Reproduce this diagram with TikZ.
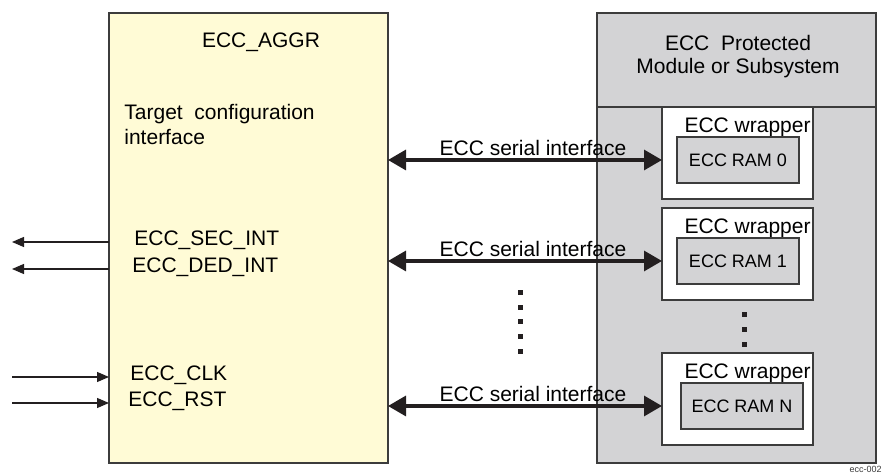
\documentclass[tikz,border=0pt]{standalone}
\usepackage{fontspec}
\setmainfont{Liberation Sans}
\setsansfont{Liberation Sans}
\usepackage{tikz}
\usetikzlibrary{arrows.meta,positioning}
\definecolor{eaYellow}{HTML}{FFFBD6}
\definecolor{eaGrey}{HTML}{D3D3D5}
\definecolor{eaLine}{HTML}{3C3C3C}
\definecolor{eaInk}{HTML}{231F20}

\begin{document}
\begin{tikzpicture}[x=0.5pt,y=-0.5pt,font=\sffamily\fontsize{10.5}{12.5}\selectfont,
    blockbox/.style={draw=eaLine, line width=0.6pt, inner sep=0pt, outer sep=0pt, anchor=north west},
    serial/.style={draw=eaInk, line width=1.6pt, {Triangle[length=9pt,width=10pt]}-{Triangle[length=9pt,width=10pt]}},
    sigline/.style={draw=eaInk, line width=0.6pt, -{Triangle[length=6pt,width=5pt]}},
    dotsq/.style={fill=eaInk}]
  \useasboundingbox (0,0) rectangle (884,474);

  % aggregator
  \node[blockbox, fill=eaYellow, minimum width=139.5pt, minimum height=225pt] (aggr) at (109,13) {};
  \node (aggrname) at (261,42) {ECC\_AGGR};
  \node[anchor=west, align=left, inner sep=0pt] (tgtif) at (124,125) {Target\ \ configuration\\interface};

  % protected module
  \node[blockbox, fill=eaGrey, minimum width=139.5pt, minimum height=225pt] (prot) at (597,13) {};
  \node[blockbox, fill=eaGrey, minimum width=139.5pt, minimum height=47pt] (prothdr) at (597,13) {};
  \node[align=center, font=\sffamily\fontsize{10.5}{11.5}\selectfont] (protname) at (738,57) {ECC\ \ Protected\\Module or Subsystem};

  % wrappers, rams and serial links
  \foreach \n/\y/\rx in {0/107/677, 1/208/677, N/353/681} {
    \node[blockbox, fill=white, minimum width=75.5pt, minimum height=46pt] (wrap\n) at (662,\y) {};
    \node[anchor=north east, inner xsep=1pt, inner ysep=5pt] (wraplbl\n) at (wrap\n.north east) {ECC wrapper};
    \node[blockbox, fill=eaGrey, minimum width=61pt, minimum height=23pt,
          font=\sffamily\fontsize{9}{10}\selectfont] (ram\n) at (\rx,\y+30) {ECC RAM \n};
    \draw[serial] (aggr.east |- ram\n) -- (wrap\n.west |- ram\n)
      node[midway, above, inner sep=1.5pt, xshift=4pt] {ECC serial interface};
  }

  % interrupts out, clock and reset in
  \foreach \y/\x/\t/\d in {240/134/ECC\_SEC\_INT/o, 267/132/ECC\_DED\_INT/o, 375/130/ECC\_CLK/i, 401/128/ECC\_RST/i} {
    \node[anchor=west, inner sep=0pt] (sig\y) at (\x,\y) {\t};
    \coordinate (ext\y) at (12,\y+2);
    \if o\d
      \draw[sigline] (aggr.west |- ext\y) -- (ext\y);
    \else
      \draw[sigline] (ext\y) -- (aggr.west |- ext\y);
    \fi
  }

  % continuation dots
  \foreach \y in {293,307.5,322,337,352}
    \fill[dotsq] (520,\y) +(-2.5,-2.5) rectangle +(2.5,2.5);
  \foreach \y in {315,330,345}
    \fill[dotsq] (744,\y) +(-2.5,-2.5) rectangle +(2.5,2.5);

  \node[anchor=east, inner sep=0pt, text=eaLine, font=\sffamily\fontsize{4.5}{5}\selectfont] (figid) at (882,469) {ecc-002};
\end{tikzpicture}
\end{document}
